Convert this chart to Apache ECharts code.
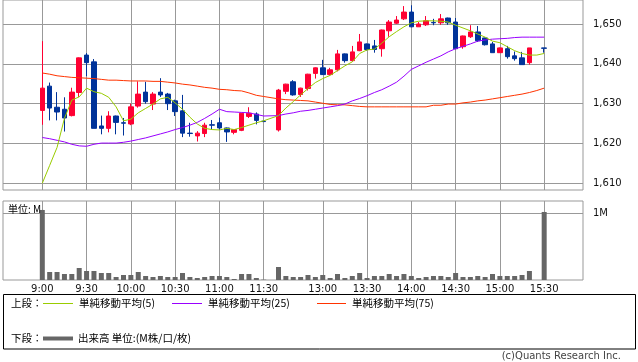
<!DOCTYPE html>
<html><head><meta charset="utf-8">
<script src="https://cdn.jsdelivr.net/npm/echarts@6/dist/echarts.min.js"></script>
<style>html,body{margin:0;padding:0;background:#fff}#c{width:638px;height:362px}</style>
</head><body><div id="c"></div>
<script>
const times = ['9:00','9:05','9:10','9:15','9:20','9:25','9:30','9:35','9:40','9:45','9:50','9:55',
  '10:00','10:05','10:10','10:15','10:20','10:25','10:30','10:35','10:40','10:45','10:50','10:55',
  '11:00','11:05','11:10','11:15','11:20','11:25','11:30','',
  '12:30','12:35','12:40','12:45','12:50','12:55',
  '13:00','13:05','13:10','13:15','13:20','13:25','13:30','13:35','13:40','13:45','13:50','13:55',
  '14:00','14:05','14:10','14:15','14:20','14:25','14:30','14:35','14:40','14:45','14:50','14:55',
  '15:00','15:05','15:10','15:15','15:20','15:25','15:30'];
const tickLabels = ['9:00','9:30','10:00','10:30','11:00','11:30','13:00','13:30','14:00','14:30','15:00','15:30'];
const priceTicks = [1610, 1620, 1630, 1640, 1650];
const opens = [1628.3,1634.4,1629.1,1628.6,1627.0,1632.8,1642.2,1640.5,1624.4,1623.8,1626.9,1625.2,
  1624.9,1629.4,1632.9,1629.9,1632.9,1632.4,1630.7,1628.2,1622.6,1621.9,1622.5,1624.7,
  1625.2,1623.9,1622.8,1623.3,1626.8,1627.4,1625.6,null,
  1623.4,1633.1,1635.5,1632.3,1633.8,1637.6,1639.0,1637.3,1638.5,1642.5,1640.8,1643.3,
  1645.0,1644.5,1643.8,1648.3,1650.2,1651.3,1653.0,1649.3,1649.8,1650.4,1650.3,1651.5,
  1650.5,1644.3,1646.8,1648.0,1646.5,1645.0,1642.8,1643.8,1642.0,1641.5,1640.3,null,1644.0];
const closes = [1633.9,1628.9,1627.9,1626.4,1632.9,1641.5,1640.3,1623.8,1623.8,1626.9,1625.3,1625.1,
  1629.2,1632.4,1630.5,1632.4,1632.2,1630.0,1628.0,1622.6,1622.5,1622.6,1624.6,1624.6,
  1623.9,1622.9,1623.5,1627.6,1627.6,1625.8,1625.5,null,
  1633.4,1634.9,1632.2,1633.9,1637.4,1639.0,1637.3,1638.5,1642.5,1640.8,1643.0,1645.5,
  1643.6,1643.6,1648.5,1650.5,1651.0,1653.0,1649.3,1650.0,1650.8,1650.3,1651.3,1650.3,
  1643.8,1647.0,1648.0,1645.8,1644.8,1642.8,1644.0,1641.8,1641.3,1639.8,1644.0,null,1643.9];
const lows = [1624.7,1625.8,1625.8,1623.0,1626.8,1631.7,1636.9,1623.8,1622.3,1622.8,1622.3,1622.0,
  1624.6,1629.0,1630.0,1628.4,1631.7,1628.4,1626.9,1621.6,1621.7,1620.5,1621.6,1623.4,
  1623.5,1620.4,1622.3,1623.1,1626.4,1624.8,1625.4,null,
  1623.0,1632.4,1632.0,1631.7,1633.3,1636.3,1637.2,1637.1,1638.1,1640.3,1640.6,1643.2,
  1643.3,1642.8,1641.8,1646.8,1650.0,1651.0,1649.2,1649.3,1649.5,1649.7,1649.8,1649.8,
  1643.7,1643.8,1646.5,1645.5,1644.6,1642.8,1642.8,1641.3,1640.8,1639.8,1639.8,null,1642.8];
const highs = [1645.7,1635.3,1632.9,1631.6,1634.0,1641.6,1642.7,1641.2,1627.0,1628.1,1627.0,1626.4,
  1630.0,1635.6,1635.5,1632.9,1636.4,1632.7,1631.0,1632.2,1625.2,1623.1,1625.2,1625.9,
  1626.5,1624.0,1623.6,1627.7,1629.1,1627.8,1625.7,null,
  1633.7,1635.0,1635.9,1634.0,1637.5,1639.1,1641.0,1639.0,1643.5,1642.6,1644.5,1647.5,
  1645.1,1646.0,1648.6,1651.0,1652.0,1654.5,1654.7,1650.5,1652.0,1651.3,1652.5,1651.6,
  1651.5,1647.1,1649.7,1649.5,1646.6,1645.5,1644.1,1644.5,1643.1,1643.0,1644.0,null,1644.0];
const ma5 = [1610.0,1614.5,1619.0,1626.3,1630.9,1631.7,1633.9,1633.0,1632.6,1631.6,1629.2,1625.7,
  1626.1,1627.7,1628.8,1629.9,1631.2,1631.6,1630.2,1628.6,1626.6,1624.9,1623.8,1623.5,
  1623.4,1623.8,1623.5,1624.0,1624.6,1625.2,1625.7,null,
  1627.0,1628.9,1630.5,1632.2,1633.8,1635.3,1636.3,1637.1,1638.3,1639.5,1640.5,1642.6,
  1643.5,1643.7,1645.2,1646.8,1648.1,1649.3,1650.3,1650.7,1650.8,1650.8,1650.7,1650.5,
  1649.7,1649.0,1648.3,1647.5,1646.7,1645.7,1645.3,1644.3,1643.3,1642.6,1642.2,1642.2,1642.6];
const ma25 = [1621.5,1621.2,1620.8,1620.4,1619.8,1619.4,1619.3,1619.8,1620.1,1620.1,1620.1,1620.3,
  1620.6,1621.0,1621.4,1621.9,1622.4,1622.9,1623.5,1624.0,1624.6,1625.3,1626.3,1627.4,
  1628.6,1628.0,1627.9,1627.8,1627.7,1627.3,1626.9,null,
  1627.0,1627.4,1627.7,1628.1,1628.3,1628.6,1628.9,1629.2,1629.5,1629.9,1630.7,1631.3,
  1632.0,1632.8,1633.5,1634.4,1635.4,1636.9,1638.6,1639.5,1640.4,1641.2,1642.0,1643.0,
  1643.8,1644.4,1645.0,1645.7,1646.0,1646.2,1646.3,1646.4,1646.6,1646.7,1646.7,1646.7,1646.7];
const ma75 = [1637.7,1637.4,1637.0,1636.8,1636.6,1636.5,1636.4,1636.3,1636.1,1635.9,1635.9,1635.8,
  1635.7,1635.7,1635.7,1635.6,1635.6,1635.4,1635.2,1634.9,1634.7,1634.4,1634.1,1633.9,
  1633.6,1633.5,1633.3,1633.2,1632.7,1632.1,1631.8,null,
  1631.2,1631.0,1630.9,1630.8,1630.7,1630.4,1630.1,1629.8,1629.7,1629.7,1629.5,1629.3,
  1629.2,1629.2,1629.2,1629.2,1629.2,1629.2,1629.2,1629.2,1629.2,1629.6,1629.6,1629.9,
  1629.9,1630.2,1630.4,1630.7,1630.9,1631.2,1631.5,1631.8,1632.1,1632.4,1632.8,1633.3,1633.9];
const volumes = [1.05,0.12,0.12,0.09,0.09,0.18,0.135,0.135,0.105,0.105,0.045,0.075,
  0.075,0.12,0.06,0.045,0.06,0.045,0.045,0.105,0.045,0.03,0.045,0.06,
  0.06,0.045,0.015,0.09,0.09,0.03,0.005,null,
  0.195,0.06,0.045,0.045,0.075,0.045,
  0.075,0.03,0.09,0.03,0.06,0.105,0.03,0.06,0.06,0.09,0.06,0.09,
  0.06,0.03,0.045,0.06,0.06,0.045,0.105,0.045,0.045,0.06,0.045,0.09,
  0.06,0.06,0.06,0.075,0.135,null,1.02];

const tickIdx = tickLabels.map(t => times.indexOf(t));
const candles = [], vol = [];
times.forEach((t, i) => {
  if (opens[i] != null) candles.push([i, opens[i], closes[i], lows[i], highs[i]]);
  if (volumes[i] != null) vol.push([i, volumes[i]]);
});
const lineData = arr => arr.map((v, i) => [i, v]).filter(d => d[1] != null);

const GRID = '#999999';
const XMIN = -5.324, XMAX = 73.26;
const fontEn = 'DejaVu Sans', fontJa = 'Noto Sans CJK JP';
const jaFont = '10.5px "' + fontJa + '"';
const xBase = (gi, showLabel) => ({
  type: 'value', gridIndex: gi, min: XMIN, max: XMAX,
  axisLine: {show: false},
  axisTick: {show: false, customValues: tickIdx},
  axisLabel: {show: showLabel, customValues: tickIdx, formatter: v => times[Math.round(v)],
    color: '#111', fontFamily: fontEn, fontSize: 10, margin: 4},
  splitLine: {show: true, lineStyle: {color: GRID, width: 1}}
});

const chart = echarts.init(document.getElementById('c'), null, {renderer: 'canvas'});
const lineS = (name, data, color) => ({
  type: 'line', name, data: lineData(data), xAxisIndex: 0, yAxisIndex: 0,
  showSymbol: false, symbol: 'none', lineStyle: {color, width: 1}, z: 5, silent: true
});
chart.setOption({
  animation: false,
  backgroundColor: '#ffffff',
  grid: [
    {left: 3, top: 0, width: 580, height: 190, show: true, borderColor: GRID, borderWidth: 1, backgroundColor: 'transparent'},
    {left: 3, top: 201, width: 580, height: 79, show: true, borderColor: GRID, borderWidth: 1, backgroundColor: 'transparent'}
  ],
  xAxis: [xBase(0, false), xBase(1, true)],
  yAxis: [
    {type: 'value', gridIndex: 0, position: 'right', min: 1608.32, max: 1656.03,
      axisLine: {show: false}, axisTick: {show: false, customValues: priceTicks},
      axisLabel: {customValues: priceTicks, formatter: v => v.toLocaleString('en-US'),
        color: '#111', fontFamily: fontEn, fontSize: 10, margin: 10},
      splitLine: {show: true, lineStyle: {color: GRID, width: 1}}},
    {type: 'value', gridIndex: 1, position: 'right', min: 0, max: 1.1844,
      axisLine: {show: false}, axisTick: {show: false, customValues: [1]},
      axisLabel: {customValues: [1], formatter: () => '1M',
        color: '#111', fontFamily: fontEn, fontSize: 10, margin: 10},
      splitLine: {show: true, lineStyle: {color: GRID, width: 1}}}
  ],
  series: [
    {type: 'bar', xAxisIndex: 1, yAxisIndex: 1, data: vol, barWidth: 5,
      itemStyle: {color: '#666666'}, silent: true},
    {type: 'candlestick', xAxisIndex: 0, yAxisIndex: 0, data: candles, barWidth: 5,
      itemStyle: {color: '#ff0033', color0: '#003399', borderColor: '#ff0033', borderColor0: '#003399', borderWidth: 1},
      silent: true, z: 3},
    lineS('ma75', ma75, '#ff3300'),
    lineS('ma25', ma25, '#9900ff'),
    lineS('ma5', ma5, '#99cc00')
  ],
  graphic: [
    {type: 'text', x: 8, y: 209, silent: true, z: 10,
      style: {text: '単位: M', font: '10px "' + fontJa + '"', fill: '#000', textVerticalAlign: 'middle'}},
    {type: 'rect', silent: true, shape: {x: 3.5, y: 294.5, width: 632, height: 54.5},
      style: {fill: 'none', stroke: '#000', lineWidth: 1}},
    {type: 'text', x: 11, y: 303.3, silent: true, style: {text: '上段：', font: jaFont, fill: '#000', textVerticalAlign: 'middle'}},
    {type: 'line', silent: true, shape: {x1: 43, y1: 303.5, x2: 73, y2: 303.5}, style: {stroke: '#99cc00', lineWidth: 1}},
    {type: 'text', x: 79, y: 303.3, silent: true, style: {text: '単純移動平均(5)', font: jaFont, fill: '#000', textVerticalAlign: 'middle'}},
    {type: 'line', silent: true, shape: {x1: 172, y1: 303.5, x2: 202, y2: 303.5}, style: {stroke: '#9900ff', lineWidth: 1}},
    {type: 'text', x: 208, y: 303.3, silent: true, style: {text: '単純移動平均(25)', font: jaFont, fill: '#000', textVerticalAlign: 'middle'}},
    {type: 'line', silent: true, shape: {x1: 317, y1: 303.5, x2: 346, y2: 303.5}, style: {stroke: '#ff3300', lineWidth: 1}},
    {type: 'text', x: 352, y: 303.3, silent: true, style: {text: '単純移動平均(75)', font: jaFont, fill: '#000', textVerticalAlign: 'middle'}},
    {type: 'text', x: 11, y: 338.4, silent: true, style: {text: '下段：', font: jaFont, fill: '#000', textVerticalAlign: 'middle'}},
    {type: 'line', silent: true, shape: {x1: 43, y1: 338.5, x2: 73, y2: 338.5}, style: {stroke: '#666666', lineWidth: 4}},
    {type: 'text', x: 78, y: 338.4, silent: true, style: {text: '出来高 単位:(M株/口/枚)', font: jaFont, fill: '#000', textVerticalAlign: 'middle'}},
    {type: 'text', x: 621, y: 356.6, silent: true, style: {text: '(c)Quants Research Inc.', font: '10px "' + fontEn + '"', fill: '#444', textAlign: 'right', textVerticalAlign: 'middle'}}
  ]
});
</script>
</body></html>
